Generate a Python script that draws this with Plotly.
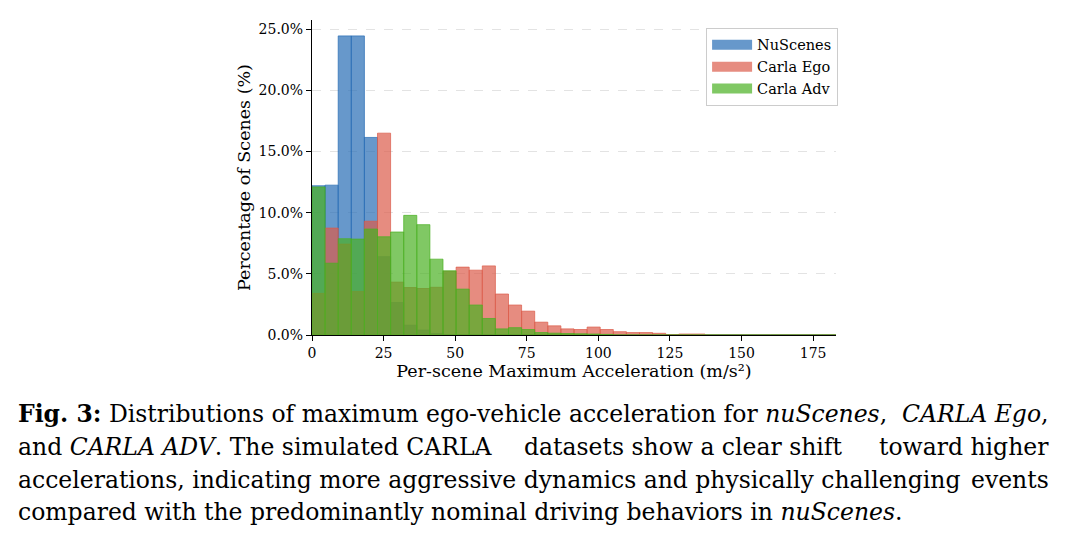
import plotly.graph_objects as go
import numpy as np

# ---------------- data (percent of scenes per bin) ----------------
BIN_WIDTH = 4.575          # m/s^2, 40 equal bins from 0
N_BINS = 40

nuscenes = [12.2, 12.25, 24.45, 24.45, 16.15, 6.4, 2.65, 0.8, 0.4, 0.12] + [0.0] * 30
carla_ego = [3.4, 8.74, 7.43, 3.55, 9.3, 16.5, 4.32, 3.88, 3.8, 3.9,
             5.2, 5.55, 5.3, 5.65, 3.35, 2.45, 1.95, 1.05, 0.75, 0.5,
             0.45, 0.65, 0.45, 0.27, 0.2, 0.2, 0.14, 0.03, 0.08, 0.08] + [0.0] * 10
carla_adv = [12.1, 5.87, 7.87, 7.84, 8.66, 8.03, 8.42, 9.78, 9.02, 6.2,
             5.25, 3.75, 2.45, 1.35, 0.5, 0.6, 0.45, 0.2, 0.15, 0.12,
             0.1, 0.08, 0.05] + [0.0] * 17

series_names = ["NuScenes", "Carla Ego", "Carla Adv"]
series_values = [nuscenes, carla_ego, carla_adv]
series_colors = ["rgba(38,108,181,0.7)", "rgba(219,91,74,0.7)", "rgba(74,176,34,0.7)"]

x_ticks = [0, 25, 50, 75, 100, 125, 150, 175]
y_ticks = [0, 5, 10, 15, 20, 25]
y_tick_text = [f"{v:.1f}%" for v in y_ticks]

# caption: (text, anchor, x pixel) segments per line, used to mimic justified text
caption_lines = [
    [("<b>Fig. 3:</b> Distributions of maximum ego-vehicle acceleration for <i>nuScenes</i>,", "left", 16),
     ("<i>CARLA Ego</i>,", "right", 1051)],
    [("and <i>CARLA ADV</i>. The simulated CARLA", "left", 16),
     ("datasets show a clear shift", "center", 683),
     ("toward higher", "right", 1051)],
    [("accelerations, indicating more aggressive dynamics and physically challenging", "left", 16),
     ("events", "right", 1051)],
    [("compared with the predominantly nominal driving behaviors in <i>nuScenes</i>.", "left", 16)],
]
caption_baselines = [422, 455, 487.5, 519.5]

# ---------------- figure ----------------
W, H = 1068, 543
ML, MR, MT, MB = 312, 232, 20, 208
x_max = BIN_WIDTH * N_BINS
centers = (np.arange(N_BINS) + 0.5) * BIN_WIDTH

fig = go.Figure()
for name, vals, col in zip(series_names, series_values, series_colors):
    fig.add_trace(go.Bar(
        x=centers, y=vals, width=BIN_WIDTH, name=name, showlegend=False,
        marker=dict(color=col, line=dict(color=col, width=1)),
    ))
# legend entries drawn as wide patches
for name, col in zip(series_names, series_colors):
    fig.add_trace(go.Scatter(
        x=[None], y=[None], mode="lines", name=name,
        line=dict(color=col, width=13),
    ))

SERIF = "DejaVu Serif"
fig.update_layout(
    width=W, height=H,
    margin=dict(l=ML, r=MR, t=MT, b=MB, pad=0),
    barmode="overlay",
    plot_bgcolor="white", paper_bgcolor="white",
    font=dict(family=SERIF, size=14, color="black"),
    legend=dict(
        x=1.004, y=0.975, xanchor="right", yanchor="top",
        bgcolor="white", bordercolor="#cccccc", borderwidth=1,
        font=dict(family=SERIF, size=14.5), tracegroupgap=0, itemwidth=40,
    ),
    xaxis=dict(
        range=[0, x_max], tickvals=x_ticks, showgrid=False, zeroline=False,
        showline=True, linecolor="black", linewidth=1.2,
        ticks="outside", ticklen=5, tickwidth=1, tickcolor="black",
        tickfont=dict(family=SERIF, size=14),
        title=dict(text="Per-scene Maximum Acceleration (m/s²)", font=dict(family=SERIF, size=17.5), standoff=3),
    ),
    yaxis=dict(
        range=[0, 25.75], tickvals=y_ticks, ticktext=y_tick_text,
        showgrid=True, gridcolor="#e3e3e3", griddash="dash", gridwidth=0.8, zeroline=False,
        showline=True, linecolor="black", linewidth=1.2,
        ticks="outside", ticklen=5, tickwidth=1, tickcolor="black",
        tickfont=dict(family=SERIF, size=14),
        title=dict(text="Percentage of Scenes (%)", font=dict(family=SERIF, size=17.5), standoff=3),
    ),
)

# caption below the chart (pixel -> paper conversion)
pw = W - ML - MR
ph = H - MT - MB
def px_x(px):
    return (px - ML) / pw
def px_y(py):
    return (H - MB - py) / ph

for segs, base in zip(caption_lines, caption_baselines):
    for text, anchor, xpx in segs:
        fig.add_annotation(
            text=text, xref="paper", yref="paper",
            x=px_x(xpx), y=px_y(base + 8), xanchor=anchor, yanchor="bottom",
            showarrow=False, font=dict(family=SERIF, size=23.5, color="black"),
        )

fig.write_html("out.html")
